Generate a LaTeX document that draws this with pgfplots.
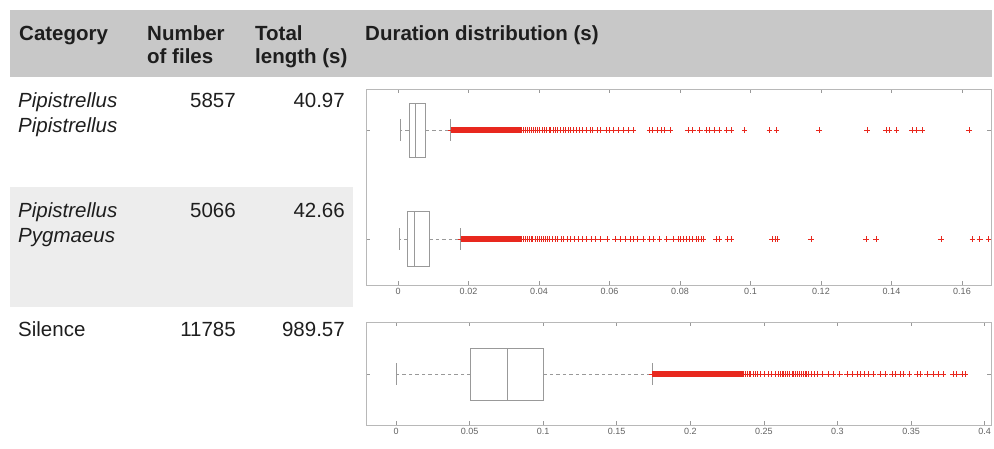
\documentclass[border=0pt]{standalone}
\usepackage{fontspec}
\setmainfont{Liberation Sans}
\usepackage{pgfplots}
\pgfplotsset{compat=1.18}
\usepgfplotslibrary{statistics}
\definecolor{hdr}{HTML}{C8C8C8}
\definecolor{rowgray}{HTML}{EDEDED}
\definecolor{outred}{RGB}{232,40,30}
\definecolor{boxgray}{HTML}{999999}
\definecolor{txt}{HTML}{1E1E1E}
\tikzset{wh/.style={draw=boxgray, line width=0.6pt, dash pattern=on 3.5pt off 3pt}}
\pgfplotsset{
  panel/.style={
    scale only axis,
    anchor=south west,
    axis line style={draw=black!28, line width=0.6pt},
    tick style={draw=black!40, line width=0.5pt},
    major tick length=4pt,
    tick align=inside, xtick pos=both, ytick pos=both,
    ticklabel style={font=\fontsize{9}{10}\selectfont, text=black!62},
    yticklabels={},
    y dir=reverse,
    /pgf/number format/assume math mode=true,
    /pgf/number format/fixed,
    /pgf/number format/precision=2,
    scaled x ticks=false,
  },
  bx/.style={draw=boxgray, line width=0.6pt, solid},
  cap/.style={draw=boxgray, line width=0.6pt, solid},
  outl/.style={only marks, mark=+, mark size=2.9pt, color=outred, mark options={solid, color=outred, line width=0.5pt}},
}
\newcommand{\bodyfont}{\fontsize{20.5}{25}\selectfont\color{txt}}
\begin{document}
\begin{tikzpicture}
\path[use as bounding box] (0pt,0pt) rectangle (994pt,-448pt);
% table backgrounds
\fill[hdr] (10pt,-10pt) rectangle (992pt,-77pt);
\fill[rowgray] (10pt,-187pt) rectangle (353pt,-307pt);
% header
\node[anchor=base west, inner sep=0pt, font=\bodyfont\bfseries] at (19pt,-40pt) {Category};
\node[anchor=base west, inner sep=0pt, font=\bodyfont\bfseries] at (147pt,-40pt) {Number};
\node[anchor=base west, inner sep=0pt, font=\bodyfont\bfseries] at (147pt,-63pt) {of files};
\node[anchor=base west, inner sep=0pt, font=\bodyfont\bfseries] at (255pt,-40pt) {Total};
\node[anchor=base west, inner sep=0pt, font=\bodyfont\bfseries] at (255pt,-63pt) {length (s)};
\node[anchor=base west, inner sep=0pt, font=\bodyfont\bfseries] at (365pt,-40pt) {Duration distribution (s)};
% rows
\node[anchor=base west, inner sep=0pt, font=\bodyfont\itshape] at (18pt,-107pt) {Pipistrellus};
\node[anchor=base west, inner sep=0pt, font=\bodyfont\itshape] at (18pt,-132pt) {Pipistrellus};
\node[anchor=base east, inner sep=0pt, font=\bodyfont] at (236pt,-107pt) {5857};
\node[anchor=base east, inner sep=0pt, font=\bodyfont] at (345pt,-107pt) {40.97};
\node[anchor=base west, inner sep=0pt, font=\bodyfont\itshape] at (18pt,-217pt) {Pipistrellus};
\node[anchor=base west, inner sep=0pt, font=\bodyfont\itshape] at (18pt,-242pt) {Pygmaeus};
\node[anchor=base east, inner sep=0pt, font=\bodyfont] at (236pt,-217pt) {5066};
\node[anchor=base east, inner sep=0pt, font=\bodyfont] at (345pt,-217pt) {42.66};
\node[anchor=base west, inner sep=0pt, font=\bodyfont] at (18pt,-336pt) {Silence};
\node[anchor=base east, inner sep=0pt, font=\bodyfont] at (236pt,-336pt) {11785};
\node[anchor=base east, inner sep=0pt, font=\bodyfont] at (345pt,-336pt) {989.57};

% ---------- top panel: bats ----------
\begin{axis}[panel, at={(366pt,-285pt)}, width=625pt, height=196pt,
  xmin=-0.00908, xmax=0.16823, ymin=89, ymax=285,
  xtick={0,0.02,0.04,0.06,0.08,0.1,0.12,0.14,0.16}, ytick={130,239}]
% Pipistrellus pipistrellus
\addplot[bx, boxplot prepared={draw direction=x, draw position=130,
  lower whisker=0.0006, lower quartile=0.0031, median=0.0048,
  upper quartile=0.0078, upper whisker=0.0149, box extend=54, whisker extend=0,
  every whisker/.style={wh}}] coordinates {};
\addplot[cap] coordinates {(0.0006,119) (0.0006,141)};
\addplot[cap] coordinates {(0.0149,119) (0.0149,141)};
\addplot[outl] table[row sep=\\, x index=0, y expr=130] {
0.0150\\0.0152\\0.0154\\0.0156\\0.0158\\0.0160\\0.0162\\0.0164\\0.0166\\0.0168\\
0.0170\\0.0172\\0.0174\\0.0176\\0.0178\\0.0180\\0.0182\\0.0184\\0.0186\\0.0188\\
0.0190\\0.0192\\0.0194\\0.0196\\0.0198\\0.0200\\0.0202\\0.0204\\0.0206\\0.0208\\
0.0210\\0.0212\\0.0214\\0.0216\\0.0218\\0.0220\\0.0222\\0.0224\\0.0226\\0.0228\\
0.0230\\0.0232\\0.0234\\0.0236\\0.0238\\0.0240\\0.0242\\0.0244\\0.0246\\0.0248\\
0.0250\\0.0252\\0.0254\\0.0256\\0.0258\\0.0260\\0.0262\\0.0264\\0.0266\\0.0268\\
0.0270\\0.0272\\0.0274\\0.0276\\0.0278\\0.0280\\0.0282\\0.0284\\0.0286\\0.0288\\
0.0290\\0.0292\\0.0294\\0.0296\\0.0298\\0.0300\\0.0302\\0.0304\\0.0306\\0.0308\\
0.0310\\0.0312\\0.0314\\0.0316\\0.0318\\0.0320\\0.0322\\0.0324\\0.0326\\0.0328\\
0.0330\\0.0332\\0.0334\\0.0336\\0.0338\\0.0340\\0.0342\\0.0344\\0.0346\\0.0348\\
0.0350\\0.0355\\0.0361\\0.0366\\0.0372\\0.0378\\0.0383\\0.0390\\0.0396\\0.0401\\
0.0408\\0.0415\\0.0420\\0.0428\\0.0433\\0.0440\\0.0446\\0.0452\\0.0460\\0.0468\\
0.0475\\0.0483\\0.0490\\0.0498\\0.0505\\0.0515\\0.0522\\0.0535\\0.0545\\0.0552\\
0.0565\\0.0575\\0.0590\\0.0600\\0.0612\\0.0625\\0.0640\\0.0652\\0.0668\\0.0714\\
0.0722\\0.0735\\0.0747\\0.0756\\0.0771\\0.0822\\0.0836\\0.0856\\0.0875\\0.0884\\
0.0898\\0.0912\\0.0932\\0.0946\\0.0983\\0.1054\\0.1074\\0.1195\\0.1331\\0.1385\\
0.1394\\0.1414\\0.1459\\0.1470\\0.1487\\0.1620\\
};
% Pipistrellus pygmaeus
\addplot[bx, boxplot prepared={draw direction=x, draw position=239,
  lower whisker=0.0003, lower quartile=0.0027, median=0.0046,
  upper quartile=0.0089, upper whisker=0.0178, box extend=55, whisker extend=0,
  every whisker/.style={wh}}] coordinates {};
\addplot[cap] coordinates {(0.0003,228) (0.0003,250)};
\addplot[cap] coordinates {(0.0178,228) (0.0178,250)};
\addplot[outl] table[row sep=\\, x index=0, y expr=239] {
0.0178\\0.0180\\0.0182\\0.0184\\0.0186\\0.0188\\0.0190\\0.0192\\0.0194\\0.0196\\
0.0198\\0.0200\\0.0202\\0.0204\\0.0206\\0.0208\\0.0210\\0.0212\\0.0214\\0.0216\\
0.0218\\0.0220\\0.0222\\0.0224\\0.0226\\0.0228\\0.0230\\0.0232\\0.0234\\0.0236\\
0.0238\\0.0240\\0.0242\\0.0244\\0.0246\\0.0248\\0.0250\\0.0252\\0.0254\\0.0256\\
0.0258\\0.0260\\0.0262\\0.0264\\0.0266\\0.0268\\0.0270\\0.0272\\0.0274\\0.0276\\
0.0278\\0.0280\\0.0282\\0.0284\\0.0286\\0.0288\\0.0290\\0.0292\\0.0294\\0.0296\\
0.0298\\0.0300\\0.0302\\0.0304\\0.0306\\0.0308\\0.0310\\0.0312\\0.0314\\0.0316\\
0.0318\\0.0320\\0.0322\\0.0324\\0.0326\\0.0328\\0.0330\\0.0332\\0.0334\\0.0336\\
0.0338\\0.0340\\0.0342\\0.0344\\0.0346\\0.0349\\0.0355\\0.0360\\0.0366\\0.0371\\
0.0377\\0.0382\\0.0388\\0.0394\\0.0400\\0.0405\\0.0412\\0.0418\\0.0424\\0.0430\\
0.0437\\0.0445\\0.0452\\0.0462\\0.0470\\0.0480\\0.0490\\0.0500\\0.0510\\0.0522\\
0.0535\\0.0548\\0.0560\\0.0575\\0.0593\\0.0616\\0.0630\\0.0644\\0.0658\\0.0667\\
0.0680\\0.0695\\0.0714\\0.0723\\0.0742\\0.0762\\0.0780\\0.0794\\0.0800\\0.0810\\
0.0818\\0.0825\\0.0835\\0.0845\\0.0852\\0.0860\\0.0866\\0.0903\\0.0912\\0.0935\\
0.0946\\0.1062\\0.1069\\0.1076\\0.1171\\0.1327\\0.1356\\0.1540\\0.1630\\0.1650\\
0.1675\\
};
\end{axis}

% ---------- bottom panel: silence ----------
\begin{axis}[panel, at={(366pt,-425pt)}, width=625pt, height=103pt,
  xmin=-0.0204, xmax=0.40437, ymin=322, ymax=425,
  xtick={0,0.05,0.1,0.15,0.2,0.25,0.3,0.35,0.4}, ytick={374}]
\addplot[bx, boxplot prepared={draw direction=x, draw position=374,
  lower whisker=0.0000, lower quartile=0.0508, median=0.0757,
  upper quartile=0.1002, upper whisker=0.1739, box extend=52, whisker extend=0,
  every whisker/.style={wh}}] coordinates {};
\addplot[cap] coordinates {(0.0000,363) (0.0000,385)};
\addplot[cap] coordinates {(0.1739,363) (0.1739,385)};
\addplot[outl] table[row sep=\\, x index=0, y expr=374] {
0.1740\\0.1745\\0.1750\\0.1755\\0.1760\\0.1765\\0.1770\\0.1775\\0.1780\\0.1785\\
0.1790\\0.1795\\0.1800\\0.1805\\0.1810\\0.1815\\0.1820\\0.1825\\0.1830\\0.1835\\
0.1840\\0.1845\\0.1850\\0.1855\\0.1860\\0.1865\\0.1870\\0.1875\\0.1880\\0.1885\\
0.1890\\0.1895\\0.1900\\0.1905\\0.1910\\0.1915\\0.1920\\0.1925\\0.1930\\0.1935\\
0.1940\\0.1945\\0.1950\\0.1955\\0.1960\\0.1965\\0.1970\\0.1975\\0.1980\\0.1985\\
0.1990\\0.1995\\0.2000\\0.2005\\0.2010\\0.2015\\0.2020\\0.2025\\0.2030\\0.2035\\
0.2040\\0.2045\\0.2050\\0.2055\\0.2060\\0.2065\\0.2070\\0.2075\\0.2080\\0.2085\\
0.2090\\0.2095\\0.2100\\0.2105\\0.2110\\0.2115\\0.2120\\0.2125\\0.2130\\0.2135\\
0.2140\\0.2145\\0.2150\\0.2155\\0.2160\\0.2165\\0.2170\\0.2175\\0.2180\\0.2185\\
0.2190\\0.2195\\0.2200\\0.2205\\0.2210\\0.2215\\0.2220\\0.2225\\0.2230\\0.2235\\
0.2240\\0.2245\\0.2250\\0.2255\\0.2260\\0.2265\\0.2270\\0.2275\\0.2280\\0.2285\\
0.2290\\0.2295\\0.2300\\0.2305\\0.2310\\0.2315\\0.2320\\0.2325\\0.2330\\0.2335\\
0.2340\\0.2345\\0.2350\\0.2355\\0.2360\\0.2372\\0.2385\\0.2398\\0.2410\\0.2425\\
0.2440\\0.2457\\0.2474\\0.2500\\0.2528\\0.2550\\0.2576\\0.2595\\0.2610\\0.2622\\
0.2635\\0.2648\\0.2660\\0.2675\\0.2690\\0.2702\\0.2715\\0.2728\\0.2740\\0.2752\\
0.2765\\0.2778\\0.2790\\0.2805\\0.2820\\0.2840\\0.2860\\0.2900\\0.2936\\0.2970\\
0.3015\\0.3065\\0.3100\\0.3133\\0.3153\\0.3180\\0.3210\\0.3242\\0.3290\\0.3323\\
0.3370\\0.3390\\0.3425\\0.3446\\0.3490\\0.3540\\0.3560\\0.3610\\0.3650\\0.3683\\
0.3718\\0.3785\\0.3810\\0.3847\\0.3867\\
};
\end{axis}
\end{tikzpicture}
\end{document}
